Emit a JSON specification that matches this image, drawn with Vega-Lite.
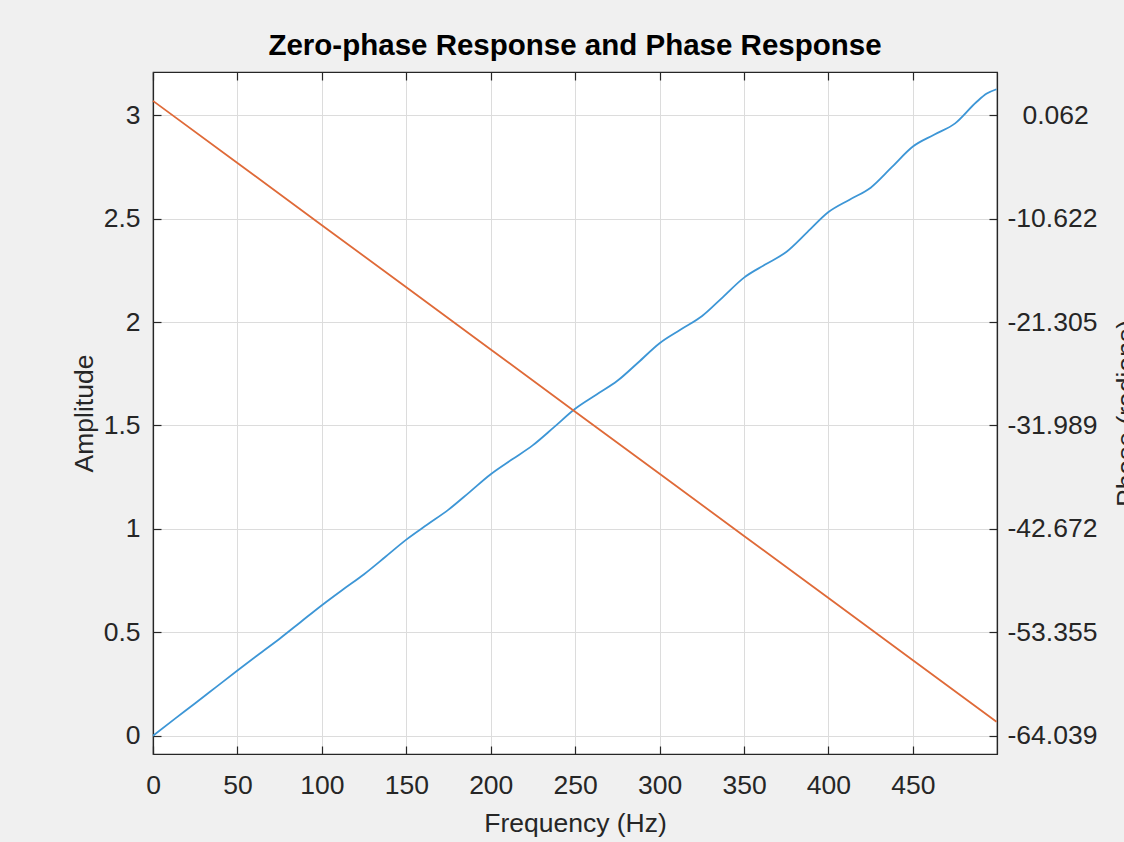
{
  "$schema": "https://vega.github.io/schema/vega-lite/v6.json",
  "autosize": {"type": "none"},
  "width": 844,
  "height": 682,
  "padding": {"left": 153, "top": 72, "right": 127, "bottom": 88},
  "background": "#f0f0f0",
  "title": {
    "text": "Zero-phase Response and Phase Response",
    "font": "Liberation Sans",
    "fontSize": 29.5,
    "fontWeight": "bold",
    "color": "#000000",
    "anchor": "middle",
    "baseline": "alphabetic",
    "offset": -13
  },
  "config": {
    "view": {"fill": "#ffffff", "stroke": "#262626", "strokeWidth": 1.2},
    "font": "Liberation Sans",
    "axis": {
      "labelFont": "Liberation Sans",
      "titleFont": "Liberation Sans",
      "labelFontSize": 26.5,
      "titleFontSize": 26.5,
      "titleFontWeight": "normal",
      "labelColor": "#262626",
      "titleColor": "#262626",
      "domainColor": "#262626",
      "domainWidth": 1.2,
      "tickColor": "#262626",
      "tickWidth": 1.2,
      "tickSize": -8,
      "gridColor": "#dcdcdc",
      "gridWidth": 1,
      "labelOverlap": false,
      "labelFlush": false
    }
  },
  "datasets": {
    "amp": [
      {"f": 0, "amp": 0},
      {"f": 12.5, "amp": 0.079},
      {"f": 25, "amp": 0.157},
      {"f": 37.5, "amp": 0.236},
      {"f": 50, "amp": 0.315},
      {"f": 62.5, "amp": 0.393},
      {"f": 75, "amp": 0.469},
      {"f": 87.5, "amp": 0.55},
      {"f": 100, "amp": 0.631},
      {"f": 112.5, "amp": 0.707},
      {"f": 125, "amp": 0.781},
      {"f": 137.5, "amp": 0.864},
      {"f": 150, "amp": 0.948},
      {"f": 162.5, "amp": 1.021},
      {"f": 175, "amp": 1.093},
      {"f": 187.5, "amp": 1.178},
      {"f": 200, "amp": 1.264},
      {"f": 212.5, "amp": 1.335},
      {"f": 225, "amp": 1.405},
      {"f": 237.5, "amp": 1.492},
      {"f": 250, "amp": 1.581},
      {"f": 262.5, "amp": 1.649},
      {"f": 275, "amp": 1.716},
      {"f": 287.5, "amp": 1.806},
      {"f": 300, "amp": 1.898},
      {"f": 312.5, "amp": 1.964},
      {"f": 325, "amp": 2.028},
      {"f": 337.5, "amp": 2.121},
      {"f": 350, "amp": 2.215},
      {"f": 362.5, "amp": 2.278},
      {"f": 375, "amp": 2.339},
      {"f": 387.5, "amp": 2.435},
      {"f": 400, "amp": 2.532},
      {"f": 412.5, "amp": 2.592},
      {"f": 425, "amp": 2.65},
      {"f": 437.5, "amp": 2.749},
      {"f": 450, "amp": 2.849},
      {"f": 462.5, "amp": 2.906},
      {"f": 475, "amp": 2.961},
      {"f": 487.5, "amp": 3.063},
      {"f": 493.75, "amp": 3.105},
      {"f": 499.5, "amp": 3.126}
    ],
    "phase": [
      {"f": 0, "phase": 1.55},
      {"f": 50, "phase": -4.87},
      {"f": 100, "phase": -11.29},
      {"f": 150, "phase": -17.71},
      {"f": 200, "phase": -24.14},
      {"f": 250, "phase": -30.56},
      {"f": 300, "phase": -36.98},
      {"f": 350, "phase": -43.4},
      {"f": 400, "phase": -49.82},
      {"f": 450, "phase": -56.24},
      {"f": 499.5, "phase": -62.6}
    ]
  },
  "layer": [
    {
      "data": {"name": "amp"},
      "mark": {"type": "line", "color": "#3d96d6", "strokeWidth": 1.8, "interpolate": "monotone"},
      "encoding": {
        "x": {
          "field": "f",
          "type": "quantitative",
          "scale": {"domain": [0, 499.8], "nice": false, "zero": false},
          "axis": {
            "orient": "bottom",
            "values": [0, 50, 100, 150, 200, 250, 300, 350, 400, 450],
            "format": "d",
            "grid": true,
            "labelPadding": 26,
            "title": "Frequency (Hz)",
            "titleX": 422,
            "titleY": 77,
            "titleBaseline": "alphabetic",
            "titleAlign": "center",
            "titleAnchor": null
          }
        },
        "y": {
          "field": "amp",
          "type": "quantitative",
          "scale": {"domain": [-0.0885, 3.2093], "nice": false, "zero": false},
          "axis": {
            "orient": "left",
            "values": [0, 0.5, 1, 1.5, 2, 2.5, 3],
            "format": "~g",
            "grid": true,
            "labelPadding": 21,
            "title": "Amplitude",
            "titleAngle": 270,
            "titleX": -61,
            "titleY": 341,
            "titleBaseline": "alphabetic",
            "titleAlign": "center"
          }
        }
      }
    },
    {
      "data": {"name": "phase"},
      "mark": {"type": "line", "color": "#df6a38", "strokeWidth": 1.8},
      "encoding": {
        "x": {
          "field": "f",
          "type": "quantitative",
          "axis": {
            "orient": "top",
            "values": [0, 50, 100, 150, 200, 250, 300, 350, 400, 450],
            "labels": false,
            "grid": false,
            "title": null
          }
        },
        "y": {
          "field": "phase",
          "type": "quantitative",
          "scale": {"domain": [-65.93, 4.534], "nice": false, "zero": false},
          "axis": {
            "orient": "right",
            "values": [-64.039, -53.355, -42.672, -31.989, -21.305, -10.622, 0.062],
            "labelExpr": "datum.value >= 0 ? format(datum.value, '.3f') : '-' + format(abs(datum.value), '.3f')",
            "grid": false,
            "labelPadding": {"condition": {"test": "datum.value >= 0", "value": 33}, "value": 18},
            "labelAlign": "left",
            "title": "Phase (radians)",
            "titleAngle": 270,
            "titleX": 137,
            "titleY": 341,
            "titleBaseline": "alphabetic",
            "titleAlign": "center"
          }
        }
      }
    }
  ],
  "resolve": {"scale": {"y": "independent"}, "axis": {"x": "independent"}}
}
